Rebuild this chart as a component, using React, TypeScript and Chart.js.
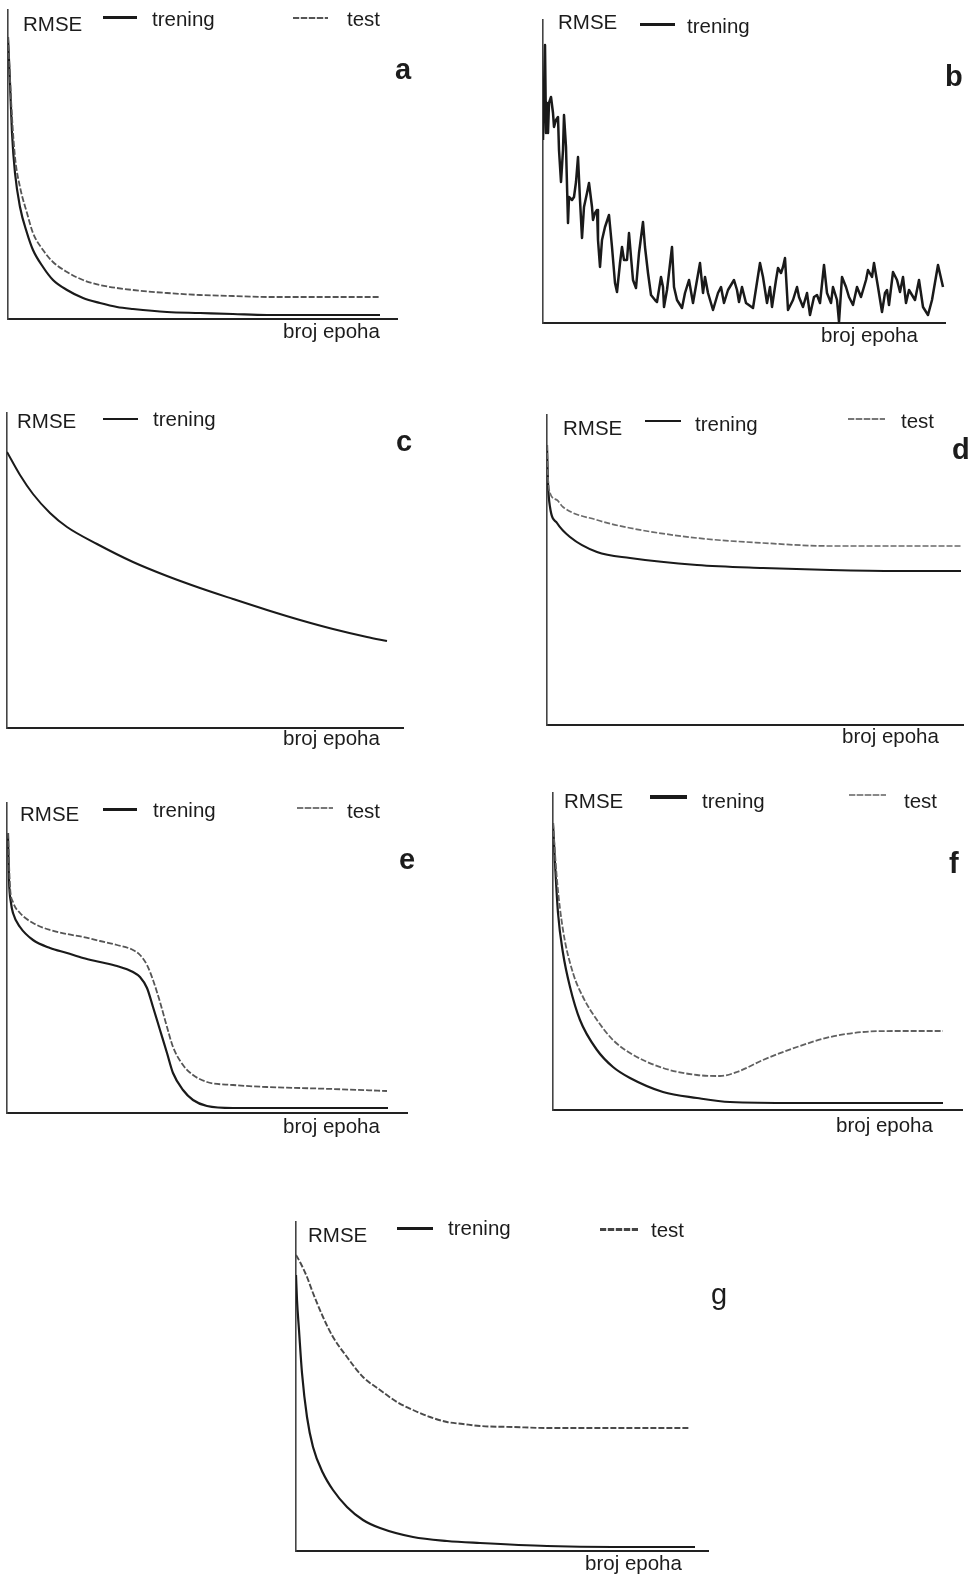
import React, { useEffect, useRef } from "react";
import { Chart, registerables } from "chart.js";

Chart.register(...registerables);

// ---------- DATA (epochs in arbitrary units, RMSE in arbitrary units) ----------
// Panel a
const aTrainEpochs = [0, 2, 4, 7, 12, 19, 25, 35, 45, 59, 75, 92, 109, 125, 159, 192, 225, 259, 325, 372];
const aTrainRmse = [2.82, 2.36, 1.86, 1.46, 1.12, 0.86, 0.69, 0.52, 0.39, 0.29, 0.21, 0.16, 0.12, 0.1, 0.07, 0.06, 0.05, 0.04, 0.04, 0.04];
const aTestEpochs = [0, 4, 7, 12, 19, 25, 35, 45, 59, 75, 92, 125, 159, 192, 225, 259, 325, 372];
const aTestRmse = [2.82, 2.02, 1.62, 1.32, 1.06, 0.86, 0.69, 0.57, 0.47, 0.39, 0.34, 0.29, 0.26, 0.24, 0.23, 0.22, 0.22, 0.22];

// Panel b (noisy training curve)
const bTrainEpochs = [
  0, 2, 3, 4, 5, 6, 8, 10, 11, 13,
  15, 16, 18, 20, 21, 23, 25, 26, 29, 31,
  33, 35, 37, 39, 41, 44, 46, 49, 50, 52,
  54, 55, 57, 59, 62, 66, 69, 72, 74, 77,
  79, 81, 84, 86, 88, 90, 93, 96, 100, 102,
  105, 108, 112, 114, 118, 120, 121, 124, 129, 131,
  134, 139, 142, 146, 150, 154, 157, 160, 162, 165,
  170, 175, 178, 181, 185, 191, 194, 196, 199, 203,
  210, 217, 220, 224, 227, 229, 233, 235, 238, 240,
  242, 245, 250, 254, 256, 260, 264, 267, 271, 274,
  277, 281, 284, 288, 290, 294, 296, 299, 303, 306,
  310, 314, 318, 323, 325, 329, 331, 335, 339, 342,
  344, 346, 350, 354, 357, 360, 363, 366, 369, 372,
  376, 380, 385, 389, 395, 400,
];
const bTrainRmse = [
  1.83, 2.78, 1.9, 2.2, 1.9, 2.2, 2.26, 2.1, 1.96, 2.03,
  2.06, 1.73, 1.41, 1.73, 2.08, 1.76, 1.0, 1.26, 1.23, 1.26,
  1.41, 1.66, 1.23, 0.85, 1.16, 1.3, 1.4, 1.16, 1.03, 1.1,
  1.13, 0.83, 0.56, 0.83, 0.96, 1.08, 0.76, 0.4, 0.31, 0.6,
  0.76, 0.63, 0.63, 0.9, 0.66, 0.43, 0.35, 0.7, 1.01, 0.76,
  0.5, 0.28, 0.23, 0.21, 0.46, 0.36, 0.16, 0.33, 0.76, 0.36,
  0.23, 0.15, 0.3, 0.43, 0.2, 0.43, 0.6, 0.3, 0.46, 0.3,
  0.13, 0.3, 0.36, 0.2, 0.33, 0.43, 0.33, 0.21, 0.36, 0.2,
  0.15, 0.6, 0.46, 0.2, 0.36, 0.16, 0.43, 0.55, 0.5, 0.56,
  0.65, 0.13, 0.23, 0.36, 0.26, 0.16, 0.3, 0.08, 0.26, 0.28,
  0.2, 0.58, 0.3, 0.2, 0.36, 0.23, 0.01, 0.46, 0.36, 0.26,
  0.18, 0.36, 0.26, 0.43, 0.53, 0.46, 0.6, 0.36, 0.11, 0.3,
  0.33, 0.18, 0.51, 0.43, 0.31, 0.46, 0.2, 0.33, 0.28, 0.23,
  0.43, 0.16, 0.08, 0.23, 0.58, 0.36,
];

// Panel c
const cTrainEpochs = [0, 13, 26, 43, 60, 90, 126, 160, 193, 226, 260, 293, 326, 360, 380];
const cTrainRmse = [2.76, 2.53, 2.34, 2.15, 2.01, 1.84, 1.66, 1.52, 1.4, 1.29, 1.18, 1.08, 0.99, 0.91, 0.87];

// Panel d
const dTrainEpochs = [0, 1, 3, 10, 23, 50, 83, 150, 216, 283, 350, 414];
const dTrainRmse = [2.8, 2.42, 2.18, 2.02, 1.88, 1.73, 1.67, 1.6, 1.57, 1.55, 1.54, 1.54];
const dTestEpochs = [0, 1, 3, 10, 16, 50, 83, 150, 216, 283, 350, 414];
const dTestRmse = [2.8, 2.48, 2.32, 2.25, 2.18, 2.05, 1.97, 1.87, 1.82, 1.79, 1.79, 1.79];

// Panel e
const eTrainEpochs = [1, 2, 4, 6, 13, 26, 43, 60, 76, 93, 110, 126, 133, 140, 146, 153, 160, 166, 176, 186, 200, 226, 293, 381];
const eTrainRmse = [2.8, 2.33, 2.1, 2.0, 1.86, 1.73, 1.65, 1.6, 1.55, 1.51, 1.47, 1.41, 1.36, 1.25, 1.06, 0.83, 0.6, 0.4, 0.23, 0.13, 0.07, 0.05, 0.05, 0.05];
const eTestEpochs = [1, 3, 6, 13, 26, 43, 60, 76, 93, 110, 126, 133, 140, 146, 153, 160, 166, 176, 186, 200, 226, 260, 293, 326, 380];
const eTestRmse = [2.8, 2.26, 2.11, 2.0, 1.9, 1.83, 1.79, 1.76, 1.72, 1.68, 1.63, 1.58, 1.48, 1.33, 1.11, 0.86, 0.66, 0.48, 0.38, 0.31, 0.28, 0.26, 0.25, 0.24, 0.22];

// Panel f
const fTrainEpochs = [0, 2, 5, 10, 17, 27, 44, 60, 77, 110, 144, 177, 244, 310, 390];
const fTrainRmse = [2.87, 2.47, 1.97, 1.57, 1.23, 0.9, 0.6, 0.43, 0.32, 0.18, 0.12, 0.08, 0.07, 0.07, 0.07];
const fTestEpochs = [0, 4, 10, 20, 30, 44, 60, 77, 110, 144, 167, 184, 210, 244, 277, 310, 344, 390];
const fTestRmse = [2.87, 2.3, 1.8, 1.37, 1.13, 0.9, 0.7, 0.57, 0.42, 0.35, 0.34, 0.38, 0.5, 0.63, 0.73, 0.78, 0.79, 0.79];

// Panel g
const gTrainEpochs = [0, 1, 3, 6, 11, 17, 27, 37, 51, 67, 84, 117, 151, 184, 251, 317, 399];
const gTrainRmse = [2.76, 2.51, 2.21, 1.78, 1.34, 1.04, 0.78, 0.61, 0.44, 0.31, 0.23, 0.14, 0.1, 0.08, 0.05, 0.04, 0.04];
const gTestEpochs = [0, 4, 11, 17, 27, 37, 51, 67, 84, 101, 117, 134, 151, 167, 184, 217, 251, 317, 394];
const gTestRmse = [2.96, 2.89, 2.74, 2.58, 2.34, 2.14, 1.94, 1.74, 1.61, 1.49, 1.41, 1.34, 1.29, 1.27, 1.25, 1.24, 1.23, 1.23, 1.23];

// Text labels
const yLabel = "RMSE";
const xLabel = "broj epoha";
const trainLabel = "trening";
const testLabel = "test";

// ---------- STYLES / LAYOUT ----------
const FONT = '"Liberation Sans", Arial, Helvetica, sans-serif';
const TXT = "#1c1c1c";
const PAD = 6;
const FS = 20.5;

type SeriesSpec = { epochs: number[]; rmse: number[]; color: string; width: number; dash: number[]; smooth: boolean };
type PanelSpec = {
  left: number; top: number; right: number; bottom: number;
  xMax: number; yMax: number;
  series: SeriesSpec[];
};

const trainStyle = (w = 2.2) => ({ color: "#1a1a1a", width: w, dash: [] as number[] });
const testStyle = (c = "#555555", w = 1.8) => ({ color: c, width: w, dash: [6, 2] });

const panels: PanelSpec[] = [
  {
    left: 8, top: 10, right: 397, bottom: 319, xMax: 389, yMax: 3.09,
    series: [
      { epochs: aTestEpochs, rmse: aTestRmse, ...testStyle(), smooth: true },
      { epochs: aTrainEpochs, rmse: aTrainRmse, ...trainStyle(), smooth: true },
    ],
  },
  {
    left: 543, top: 20, right: 945, bottom: 323, xMax: 402, yMax: 3.03,
    series: [{ epochs: bTrainEpochs, rmse: bTrainRmse, ...trainStyle(2.5), smooth: false }],
  },
  {
    left: 7, top: 413, right: 403, bottom: 728, xMax: 396, yMax: 3.15,
    series: [{ epochs: cTrainEpochs, rmse: cTrainRmse, ...trainStyle(2), smooth: true }],
  },
  {
    left: 547, top: 415, right: 963, bottom: 725, xMax: 416, yMax: 3.1,
    series: [
      { epochs: dTestEpochs, rmse: dTestRmse, ...testStyle("#6a6a6a", 1.7), smooth: true },
      { epochs: dTrainEpochs, rmse: dTrainRmse, ...trainStyle(2.2), smooth: true },
    ],
  },
  {
    left: 7, top: 803, right: 407, bottom: 1113, xMax: 400, yMax: 3.1,
    series: [
      { epochs: eTestEpochs, rmse: eTestRmse, ...testStyle(), smooth: true },
      { epochs: eTrainEpochs, rmse: eTrainRmse, ...trainStyle(), smooth: true },
    ],
  },
  {
    left: 553, top: 793, right: 962, bottom: 1110, xMax: 409, yMax: 3.17,
    series: [
      { epochs: fTestEpochs, rmse: fTestRmse, ...testStyle("#606060", 1.8), smooth: true },
      { epochs: fTrainEpochs, rmse: fTrainRmse, ...trainStyle(2.2), smooth: true },
    ],
  },
  {
    left: 296, top: 1222, right: 708, bottom: 1551, xMax: 412, yMax: 3.29,
    series: [
      { epochs: gTestEpochs, rmse: gTestRmse, ...testStyle("#4a4a4a", 1.9), smooth: true },
      { epochs: gTrainEpochs, rmse: gTrainRmse, ...trainStyle(2.2), smooth: true },
    ],
  },
];

function PanelChart({ spec }: { spec: PanelSpec }) {
  const ref = useRef<HTMLCanvasElement | null>(null);
  useEffect(() => {
    if (!ref.current) return;
    const chart = new Chart(ref.current, {
      type: "line",
      data: {
        datasets: spec.series.map((s) => ({
          data: s.epochs.map((e, i) => ({ x: e, y: s.rmse[i] })),
          borderColor: s.color,
          borderWidth: s.width,
          borderDash: s.dash,
          pointRadius: 0,
          fill: false,
          tension: 0,
          cubicInterpolationMode: s.smooth ? "monotone" : "default",
          borderJoinStyle: "round",
        })) as any,
      },
      options: {
        responsive: false,
        animation: false,
        devicePixelRatio: 1,
        events: [],
        layout: { padding: PAD },
        plugins: { legend: { display: false }, tooltip: { enabled: false } },
        scales: {
          x: {
            type: "linear",
            min: 0,
            max: spec.xMax,
            ticks: { display: false },
            grid: { display: false, drawTicks: false },
            border: { display: true, color: "#222", width: 2 },
          },
          y: {
            type: "linear",
            min: 0,
            max: spec.yMax,
            ticks: { display: false },
            grid: { display: false, drawTicks: false },
            border: { display: true, color: "#444", width: 1.6 },
          },
        },
      },
    });
    return () => chart.destroy();
  }, [spec]);
  const w = spec.right - spec.left + 2 * PAD;
  const h = spec.bottom - spec.top + 2 * PAD;
  return (
    <canvas
      ref={ref}
      width={w}
      height={h}
      style={{ position: "absolute", left: spec.left - PAD, top: spec.top - PAD, width: w, height: h }}
    />
  );
}

function Txt({ x, baseline, text, size = FS, bold = false }: { x: number; baseline: number; text: string; size?: number; bold?: boolean }) {
  return (
    <div
      style={{
        position: "absolute",
        left: x,
        top: baseline - 0.8465 * size,
        fontFamily: FONT,
        fontSize: size,
        lineHeight: `${size}px`,
        fontWeight: bold ? 700 : 400,
        color: TXT,
        whiteSpace: "nowrap",
      }}
    >
      {text}
    </div>
  );
}

function Sample({ x1, x2, y, thick, test = false, color }: { x1: number; x2: number; y: number; thick: number; test?: boolean; color?: string }) {
  const c = color || (test ? "#555" : "#1a1a1a");
  return (
    <div
      style={{
        position: "absolute",
        left: x1,
        top: y - thick / 2,
        width: x2 - x1,
        height: thick,
        background: test ? `repeating-linear-gradient(90deg, ${c} 0 6px, rgba(0,0,0,0.15) 6px 8px)` : c,
      }}
    />
  );
}

const LS = 29; // panel letter size

export default function App() {
  return (
    <div style={{ position: "absolute", left: 0, top: 0, width: 974, height: 1578, background: "#fff", overflow: "hidden" }}>
      {panels.map((p, i) => (
        <PanelChart key={i} spec={p} />
      ))}

      {/* a */}
      <Txt x={23} baseline={31} text={yLabel} />
      <Sample x1={103} x2={137} y={17} thick={3} />
      <Txt x={152} baseline={26} text={trainLabel} />
      <Sample x1={293} x2={328} y={18} thick={2} test />
      <Txt x={347} baseline={26} text={testLabel} />
      <Txt x={395} baseline={80} text="a" size={LS} bold />
      <Txt x={283} baseline={338} text={xLabel} />

      {/* b */}
      <Txt x={558} baseline={29} text={yLabel} />
      <Sample x1={640} x2={675} y={24} thick={3} />
      <Txt x={687} baseline={33} text={trainLabel} />
      <Txt x={945} baseline={87} text="b" size={LS} bold />
      <Txt x={821} baseline={342} text={xLabel} />

      {/* c */}
      <Txt x={17} baseline={428} text={yLabel} />
      <Sample x1={103} x2={138} y={419} thick={2.5} />
      <Txt x={153} baseline={426} text={trainLabel} />
      <Txt x={396} baseline={452} text="c" size={LS} bold />
      <Txt x={283} baseline={745} text={xLabel} />

      {/* d */}
      <Txt x={563} baseline={435} text={yLabel} />
      <Sample x1={645} x2={681} y={421} thick={1.6} />
      <Txt x={695} baseline={431} text={trainLabel} />
      <Sample x1={848} x2={885} y={419} thick={1.8} test color="#777" />
      <Txt x={901} baseline={428} text={testLabel} />
      <Txt x={952} baseline={460} text="d" size={LS} bold />
      <Txt x={842} baseline={743} text={xLabel} />

      {/* e */}
      <Txt x={20} baseline={821} text={yLabel} />
      <Sample x1={103} x2={137} y={809} thick={3} />
      <Txt x={153} baseline={817} text={trainLabel} />
      <Sample x1={297} x2={333} y={808} thick={2} test color="#777" />
      <Txt x={347} baseline={818} text={testLabel} />
      <Txt x={399} baseline={870} text="e" size={LS} bold />
      <Txt x={283} baseline={1133} text={xLabel} />

      {/* f */}
      <Txt x={564} baseline={808} text={yLabel} />
      <Sample x1={650} x2={687} y={797} thick={4} />
      <Txt x={702} baseline={808} text={trainLabel} />
      <Sample x1={849} x2={886} y={795} thick={1.6} test color="#888" />
      <Txt x={904} baseline={808} text={testLabel} />
      <Txt x={949} baseline={874} text="f" size={LS} bold />
      <Txt x={836} baseline={1132} text={xLabel} />

      {/* g */}
      <Txt x={308} baseline={1242} text={yLabel} />
      <Sample x1={397} x2={433} y={1228} thick={3} />
      <Txt x={448} baseline={1235} text={trainLabel} />
      <Sample x1={600} x2={638} y={1229} thick={3} test color="#444" />
      <Txt x={651} baseline={1237} text={testLabel} />
      <Txt x={711} baseline={1305} text="g" size={LS} />
      <Txt x={585} baseline={1570} text={xLabel} />
    </div>
  );
}
